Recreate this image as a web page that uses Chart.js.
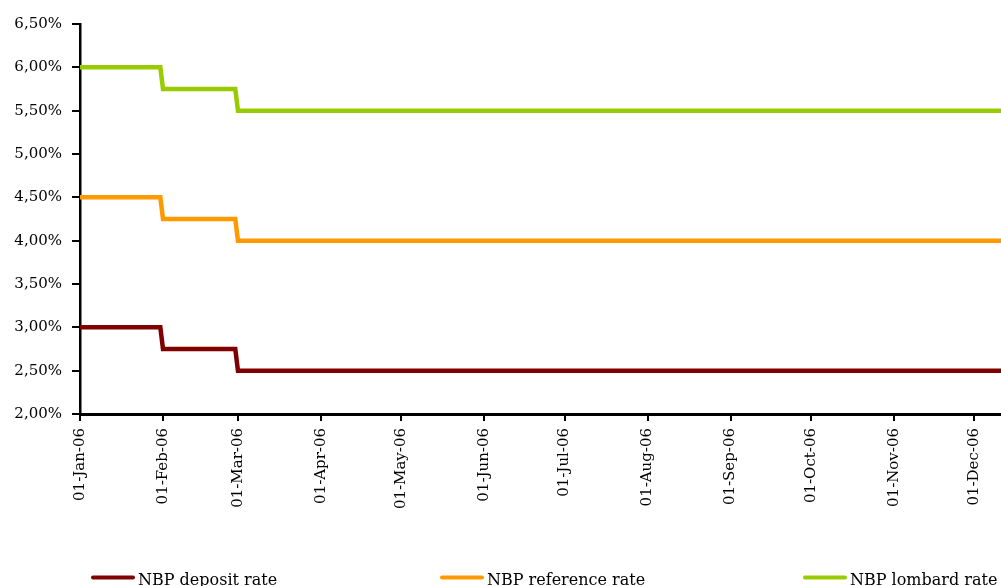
<!DOCTYPE html>
<html>
<head>
<meta charset="utf-8">
<title>NBP interest rates 2006</title>
<script src="https://cdn.jsdelivr.net/npm/chart.js@4.4.1/dist/chart.umd.min.js"></script>
<style>
  html, body { margin: 0; padding: 0; background: #ffffff; overflow: hidden; }
  canvas { display: block; }
</style>
</head>
<body>
<canvas id="rates" width="1001" height="586"></canvas>
<script>
// Dates where the rate path bends (rates cut effective 1 Feb and 1 Mar 2006)
const changeDates = ['2006-01-01', '2006-01-31', '2006-02-01', '2006-02-28', '2006-03-01', '2006-12-11'];
const depositRate   = [3.00, 3.00, 2.75, 2.75, 2.50, 2.50];
const referenceRate = [4.50, 4.50, 4.25, 4.25, 4.00, 4.00];
const lombardRate   = [6.00, 6.00, 5.75, 5.75, 5.50, 5.50];

const seriesNames  = ['NBP deposit rate', 'NBP reference rate', 'NBP lombard rate'];
const seriesColors = ['#800000', '#FF9900', '#99CC00'];

const xTickLabels = ['01-Jan-06', '01-Feb-06', '01-Mar-06', '01-Apr-06', '01-May-06', '01-Jun-06',
                     '01-Jul-06', '01-Aug-06', '01-Sep-06', '01-Oct-06', '01-Nov-06', '01-Dec-06'];
const yTickValues = [2.00, 2.50, 3.00, 3.50, 4.00, 4.50, 5.00, 5.50, 6.00, 6.50];
const yTickLabels = ['2,00%', '2,50%', '3,00%', '3,50%', '4,00%', '4,50%', '5,00%', '5,50%', '6,00%', '6,50%'];

// Day number counted from 1 Jan 2006
const DAY = 86400000;
const ORIGIN = Date.UTC(2006, 0, 1);
function dayOfIso(iso) {
  const [y, m, d] = iso.split('-').map(Number);
  return (Date.UTC(y, m - 1, d) - ORIGIN) / DAY;
}
const MONTHS = { Jan: 0, Feb: 1, Mar: 2, Apr: 3, May: 4, Jun: 5, Jul: 6, Aug: 7, Sep: 8, Oct: 9, Nov: 10, Dec: 11 };
function dayOfLabel(label) {
  const [d, mon, yy] = label.split('-');
  return (Date.UTC(2000 + Number(yy), MONTHS[mon], Number(d)) - ORIGIN) / DAY;
}

const xDays = changeDates.map(dayOfIso);
const xTickDays = xTickLabels.map(dayOfLabel);
const toPoints = vals => vals.map((v, i) => ({ x: xDays[i], y: v }));

const FONT = 'DejaVu Serif';

// Legend drawn as one spaced row along the bottom edge
const legendStarts = [91, 440, 803];
const bottomLegend = {
  id: 'bottomLegend',
  afterDraw(chart) {
    const ctx = chart.ctx;
    ctx.save();
    ctx.font = '16px "' + FONT + '"';
    ctx.textBaseline = 'alphabetic';
    ctx.textAlign = 'left';
    const lineY = 577.5;
    chart.data.datasets.forEach((ds, i) => {
      const x = legendStarts[i];
      ctx.strokeStyle = ds.borderColor;
      ctx.lineWidth = 4;
      ctx.lineCap = 'round';
      ctx.beginPath();
      ctx.moveTo(x + 2, lineY);
      ctx.lineTo(x + 42, lineY);
      ctx.stroke();
      ctx.fillStyle = '#000000';
      ctx.fillText(ds.label, x + 47, 584.5);
    });
    ctx.restore();
  }
};

const series = [depositRate, referenceRate, lombardRate];

new Chart(document.getElementById('rates'), {
  type: 'line',
  data: {
    datasets: series.map((vals, i) => ({
      label: seriesNames[i],
      data: toPoints(vals),
      borderColor: seriesColors[i],
      backgroundColor: seriesColors[i],
      borderWidth: 4.5,
      pointRadius: 0,
      tension: 0,
      fill: false
    }))
  },
  options: {
    responsive: false,
    animation: false,
    devicePixelRatio: 1,
    layout: { padding: { top: 24, left: 0, right: 0, bottom: 0 } },
    plugins: {
      legend: { display: false },
      tooltip: { enabled: false }
    },
    scales: {
      x: {
        type: 'linear',
        min: xDays[0],
        max: xDays[xDays.length - 1],
        afterBuildTicks: scale => { scale.ticks = xTickDays.map(v => ({ value: v })); },
        afterFit: scale => { scale.height = 172; },
        border: { display: true, color: '#000000', width: 3 },
        grid: { display: true, drawOnChartArea: false, drawTicks: true, tickLength: 7, color: '#000000', lineWidth: 2 },
        ticks: {
          autoSkip: false,
          minRotation: 90,
          maxRotation: 90,
          padding: 7,
          color: '#000000',
          font: { family: FONT, size: 15 },
          callback: (value, index) => xTickLabels[index]
        }
      },
      y: {
        type: 'linear',
        min: yTickValues[0],
        max: yTickValues[yTickValues.length - 1],
        afterBuildTicks: scale => { scale.ticks = yTickValues.map(v => ({ value: v })); },
        afterFit: scale => { scale.width = 80; },
        border: { display: true, color: '#000000', width: 2.5 },
        grid: { display: true, drawOnChartArea: false, drawTicks: true, tickLength: 8, color: '#000000', lineWidth: 2 },
        ticks: {
          padding: 10,
          color: '#000000',
          font: { family: FONT, size: 15 },
          callback: (value, index) => yTickLabels[index]
        }
      }
    }
  },
  plugins: [bottomLegend]
});
</script>
</body>
</html>
